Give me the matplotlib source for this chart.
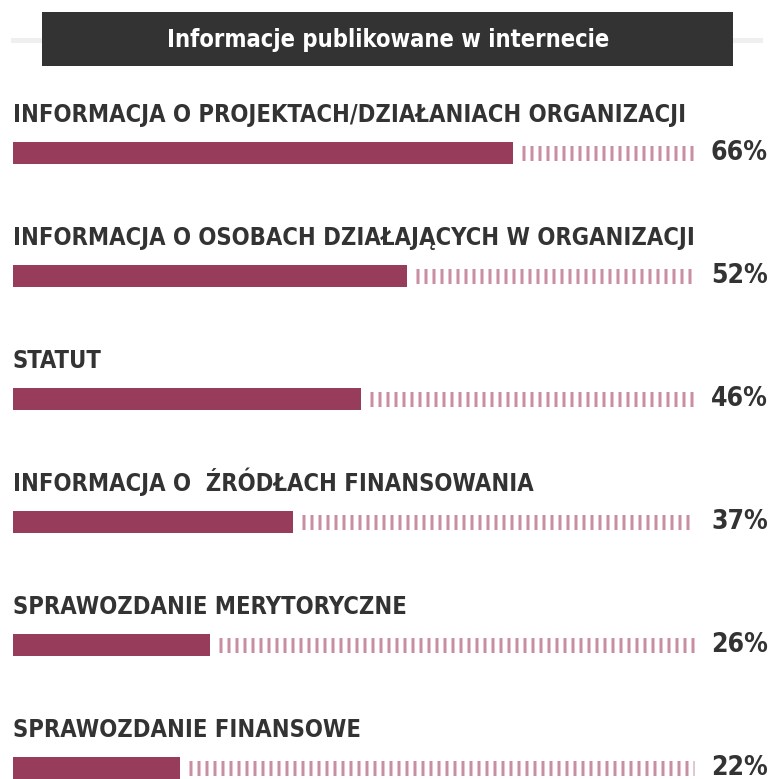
import matplotlib.pyplot as plt
from matplotlib.patches import Rectangle
from matplotlib.lines import Line2D

plt.rcParams['lines.scale_dashes'] = False

# data
labels = [
    'INFORMACJA O PROJEKTACH/DZIAŁANIACH ORGANIZACJI',
    'INFORMACJA O OSOBACH DZIAŁAJĄCYCH W ORGANIZACJI',
    'STATUT',
    'INFORMACJA O  ŹRÓDŁACH FINANSOWANIA',
    'SPRAWOZDANIE MERYTORYCZNE',
    'SPRAWOZDANIE FINANSOWE',
]
values = [66, 52, 46, 37, 26, 22]
title = 'Informacje publikowane w internecie'
track_end = 90

W, H = 771, 779
fig = plt.figure(figsize=(W / 100, H / 100), dpi=100)
fig.patch.set_facecolor('white')

def fx(px):
    return px / W

def fy(py):
    return 1 - py / H

# header: grey line behind a dark box
fig.add_artist(Line2D([fx(13), fx(760)], [fy(40), fy(40)], color='#efefef',
                      lw=3.6, zorder=0))
fig.add_artist(Rectangle((fx(42), fy(66)), fx(733) - fx(42), (66 - 12) / H,
                         facecolor='#333333', edgecolor='none', zorder=1))
fig.text(fx(388), fy(40), title, color='white', fontsize=17, fontweight='bold',
         fontstretch='condensed', family='DejaVu Sans', ha='center', va='center',
         zorder=2)

# bars axes: x 0..100 maps to 13..770 px, row spacing 123 px, first row at 153 px
step = 123
top_px = 153 - step / 2
ax = fig.add_axes([fx(13), 0, 757 / W, (H - top_px) / H])
ax.set_xlim(0, 100)
ax.set_ylim(-0.5 + (H - top_px) / step, -0.5)
ax.axis('off')

bar_h = 22 / step
ys = list(range(len(values)))
ax.barh(ys, values, height=bar_h, color='#973c5b', left=0, clip_on=False)

for y, v, lab in zip(ys, values, labels):
    ax.hlines(y, v + 1.2, track_end, colors='#c98ea3', linewidth=15 * 0.72,
              linestyles=(0, (3 * 0.72, 5 * 0.72)), capstyle='butt', clip_on=False)
    ax.text(0, y - 31 / step, lab, fontsize=17, fontweight='bold',
            fontstretch='condensed', family='DejaVu Sans', color='#333333',
            va='baseline', ha='left', clip_on=False)
    ax.text(99.7, y + 7 / step, f'{v}%', fontsize=19, fontweight='bold',
            family='DejaVu Sans', fontstretch='condensed', color='#333333',
            va='baseline', ha='right', clip_on=False)

fig.savefig('out.png', dpi=100)
